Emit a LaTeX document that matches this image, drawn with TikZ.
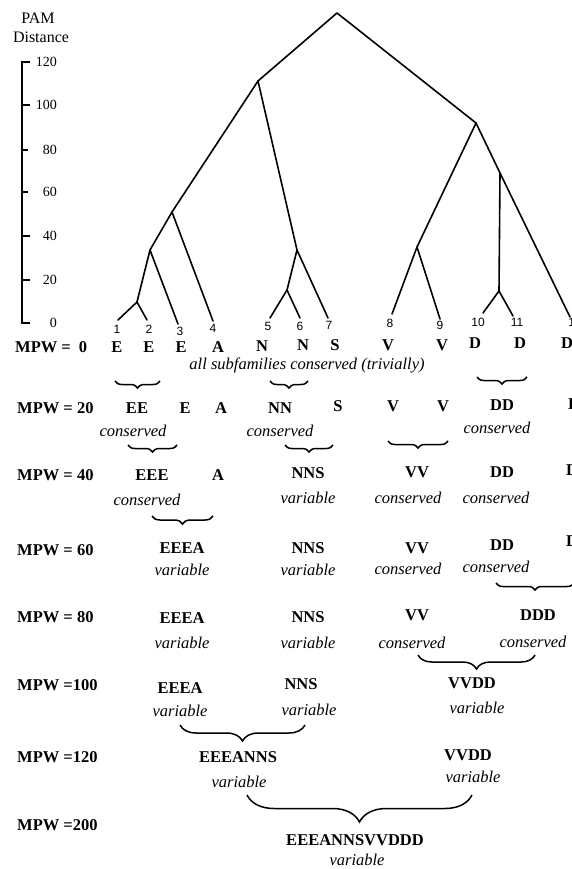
\documentclass[tikz,border=0pt]{standalone}
\usepackage{fontspec}
\setmainfont{Liberation Serif}
\newfontfamily\numfont{Liberation Sans}
\usetikzlibrary{decorations.pathreplacing}
\begin{document}
\begin{tikzpicture}[x=1pt,y=-1pt,
  tree/.style={line width=1.6pt, line cap=round, line join=round},
  axisline/.style={line width=2.4pt},
  tickmark/.style={line width=2pt},
  grp/.style={font=\fontsize{16.5}{18}\selectfont\bfseries, inner sep=0pt},
  note/.style={font=\fontsize{16.5}{18}\selectfont\itshape, inner sep=0pt},
  leafnum/.style={font=\numfont\fontsize{12}{14}\selectfont, inner sep=0pt},
  axlbl/.style={font=\fontsize{14}{16}\selectfont, inner sep=0pt, anchor=east},
  rowlbl/.style={font=\fontsize{16.5}{18}\selectfont\bfseries, inner sep=0pt, anchor=west},
  title/.style={font=\fontsize{16}{18}\selectfont, inner sep=0pt},
  hbrace/.style={decorate, decoration={brace, mirror, amplitude=#1}, line width=1.5pt},
]
\useasboundingbox (0,0) rectangle (572,869);

% ---------- axis ----------
\node[title] (pam) at (38,18) {PAM};
\node[title] (dist) at (41,37) {Distance};
\coordinate (axtop) at (22,62);
\coordinate (axbot) at (22,323);
\draw[axisline] (30,62) -- (axtop) -- (axbot) -- (30,323);
\foreach \v/\yy/\len in {100/105/30, 80/150/28, 60/192/28, 40/236/30, 20/280/30}{
  \draw[tickmark] (22,\yy) -- (\len,\yy);
}
\foreach \v/\yy in {120/62, 100/105, 80/150, 60/192, 40/236, 20/280, 0/323}{
  \node[axlbl] (ax\v) at (57,\yy) {\v};
}

% ---------- tree ----------
\coordinate (root) at (337,13);
\coordinate (nL) at (258,81);
\coordinate (nR) at (476,123);
\coordinate (nEA) at (172,212);
\coordinate (nEEE) at (150,250);
\coordinate (nEE) at (137,302);
\coordinate (nNNS) at (297,250);
\coordinate (nNN) at (287,290);
\coordinate (nVV) at (417,247);
\coordinate (nD) at (500,173);
\coordinate (nDD) at (499,291);
\coordinate (l1) at (118,320);
\coordinate (l2) at (147,320);
\coordinate (l3) at (178,324);
\coordinate (l4) at (213,321);
\coordinate (l5) at (270,318);
\coordinate (l6) at (300,318);
\coordinate (l7) at (328,318);
\coordinate (l8) at (392,314);
\coordinate (l9) at (440,319);
\coordinate (l10) at (483,313);
\coordinate (l11) at (513,316);
\coordinate (l12) at (570,317);

\draw[tree] (nL) -- (root) -- (nR);
\draw[tree] (nEA) -- (nL) -- (nNNS);
\draw[tree] (nEEE) -- (nEA) -- (l4);
\draw[tree] (nEE) -- (nEEE) -- (l3);
\draw[tree] (l1) -- (nEE) -- (l2);
\draw[tree] (nNN) -- (nNNS) -- (l7);
\draw[tree] (l5) -- (nNN) -- (l6);
\draw[tree] (nVV) -- (nR) -- (nD);
\draw[tree] (l8) -- (nVV) -- (l9);
\draw[tree] (nDD) -- (nD) -- (l12);
\draw[tree] (l10) -- (nDD) -- (l11);

% leaf numbers
\node[leafnum] (n1) at (117,329) {1};
\node[leafnum] (n2) at (149,329) {2};
\node[leafnum] (n3) at (180,331) {3};
\node[leafnum] (n4) at (213,328) {4};
\node[leafnum] (n5) at (268,326) {5};
\node[leafnum] (n6) at (300,326) {6};
\node[leafnum] (n7) at (329,325) {7};
\node[leafnum] (n8) at (390,323) {8};
\node[leafnum] (n9) at (440,325) {9};
\node[leafnum] (n10) at (478,322) {10};
\node[leafnum] (n11) at (517,322) {11};
\node[leafnum] (n12) at (575,322) {12};

% ---------- row labels ----------
\node[rowlbl] (r0) at (15,347) {MPW =\hspace{8pt}0};
\node[rowlbl] (r20) at (17,408) {MPW = 20};
\node[rowlbl] (r40) at (17,475) {MPW = 40};
\node[rowlbl] (r60) at (17,550) {MPW = 60};
\node[rowlbl] (r80) at (17,617) {MPW = 80};
\node[rowlbl] (r100) at (17,685) {MPW =100};
\node[rowlbl] (r120) at (17,757) {MPW =120};
\node[rowlbl] (r200) at (17,825) {MPW =200};

% ---------- MPW = 0 ----------
\node[grp] (a1) at (117,347) {E};
\node[grp] (a2) at (149,347) {E};
\node[grp] (a3) at (181,347) {E};
\node[grp] (a4) at (218,347) {A};
\node[grp] (a5) at (262,346) {N};
\node[grp] (a6) at (303,345) {N};
\node[grp] (a7) at (335,345) {S};
\node[grp] (a8) at (388,345) {V};
\node[grp] (a9) at (442,345) {V};
\node[grp] (a10) at (475,343) {D};
\node[grp] (a11) at (520,343) {D};
\node[grp] (a12) at (567,343) {D};
\node[note] (t0) at (307,365) {all subfamilies conserved (trivially)};

\coordinate (b1a) at (115,381); \coordinate (b1b) at (160,381);
\coordinate (b2a) at (270,381); \coordinate (b2b) at (308,381);
\coordinate (b3a) at (477,377); \coordinate (b3b) at (527,377);
\draw[hbrace=7pt] (b1a) -- (b1b);
\draw[hbrace=7pt] (b2a) -- (b2b);
\draw[hbrace=7pt] (b3a) -- (b3b);

% ---------- MPW = 20 ----------
\node[grp] (c1) at (137,408) {EE};
\node[grp] (c2) at (185,408) {E};
\node[grp] (c3) at (221,408) {A};
\node[grp] (c4) at (280,408) {NN};
\node[grp] (c5) at (338,406) {S};
\node[grp] (c6) at (393,406) {V};
\node[grp] (c7) at (443,406) {V};
\node[grp] (c8) at (502,405) {DD};
\node[grp] (c9) at (574,404) {D};
\node[note] (d1) at (133,431) {conserved};
\node[note] (d2) at (280,431) {conserved};
\node[note] (d3) at (497,428) {conserved};

\coordinate (b4a) at (128,445); \coordinate (b4b) at (177,445);
\coordinate (b5a) at (285,445); \coordinate (b5b) at (333,445);
\coordinate (b6a) at (388,441); \coordinate (b6b) at (448,441);
\draw[hbrace=7pt] (b4a) -- (b4b);
\draw[hbrace=7pt] (b5a) -- (b5b);
\draw[hbrace=7pt] (b6a) -- (b6b);

% ---------- MPW = 40 ----------
\node[grp] (e1) at (152,475) {EEE};
\node[grp] (e2) at (218,475) {A};
\node[grp] (e3) at (308,473) {NNS};
\node[grp] (e4) at (417,472) {VV};
\node[grp] (e5) at (502,472) {DD};
\node[grp] (e6) at (572,470) {D};
\node[note] (f1) at (147,500) {conserved};
\node[note] (f2) at (308,498) {variable};
\node[note] (f3) at (408,498) {conserved};
\node[note] (f4) at (496,498) {conserved};

\coordinate (b7a) at (152,516); \coordinate (b7b) at (213,516);
\draw[hbrace=8pt] (b7a) -- (b7b);

% ---------- MPW = 60 ----------
\node[grp] (g1) at (182,548) {EEEA};
\node[grp] (g2) at (308,548) {NNS};
\node[grp] (g3) at (417,548) {VV};
\node[grp] (g4) at (502,545) {DD};
\node[grp] (g5) at (572,541) {D};
\node[note] (h1) at (182,570) {variable};
\node[note] (h2) at (308,570) {variable};
\node[note] (h3) at (408,569) {conserved};
\node[note] (h4) at (496,567) {conserved};

\coordinate (b8a) at (496,583); \coordinate (b8b) at (574,583);
\draw[hbrace=7pt] (b8a) -- (b8b);

% ---------- MPW = 80 ----------
\node[grp] (i1) at (182,618) {EEEA};
\node[grp] (i2) at (308,617) {NNS};
\node[grp] (i3) at (417,615) {VV};
\node[grp] (i4) at (538,615) {DDD};
\node[note] (j1) at (182,643) {variable};
\node[note] (j2) at (308,643) {variable};
\node[note] (j3) at (412,643) {conserved};
\node[note] (j4) at (533,642) {conserved};

\coordinate (b9a) at (418,655); \coordinate (b9b) at (535,655);
\draw[hbrace=14pt] (b9a) -- (b9b);

% ---------- MPW = 100 ----------
\node[grp] (k1) at (180,688) {EEEA};
\node[grp] (k2) at (301,684) {NNS};
\node[grp] (k3) at (472,683) {VVDD};
\node[note] (m1) at (180,711) {variable};
\node[note] (m2) at (309,710) {variable};
\node[note] (m3) at (477,708) {variable};

\coordinate (b10a) at (180,725); \coordinate (b10b) at (305,725);
\draw[hbrace=16pt] (b10a) -- (b10b);

% ---------- MPW = 120 ----------
\node[grp] (o1) at (238,757) {EEEANNS};
\node[grp] (o2) at (468,755) {VVDD};
\node[note] (p1) at (239,782) {variable};
\node[note] (p2) at (473,777) {variable};

\coordinate (b11a) at (247,795); \coordinate (b11b) at (472,795);
\draw[hbrace=27pt] (b11a) -- (b11b);

% ---------- MPW = 200 ----------
\node[grp] (q1) at (355,840) {EEEANNSVVDDD};
\node[note] (q2) at (357,860) {variable};
\end{tikzpicture}
\end{document}
